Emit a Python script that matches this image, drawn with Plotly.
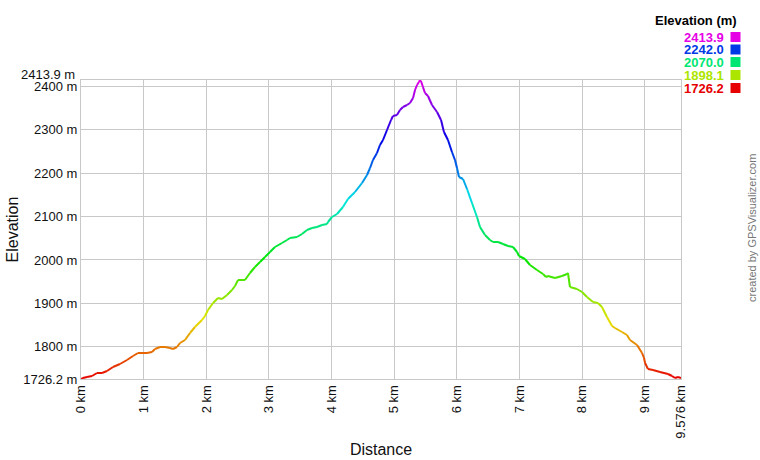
import colorsys
import plotly.graph_objects as go

# ---- data ----
distance_km = [0.000, 0.032, 0.096, 0.176, 0.255, 0.335, 0.415, 0.511, 0.622, 0.734,
               0.830, 0.910, 0.974, 1.053, 1.133, 1.181, 1.261, 1.341, 1.420, 1.468,
               1.532, 1.580, 1.660, 1.740, 1.819, 1.931, 1.979, 2.027, 2.107, 2.187,
               2.250, 2.330, 2.410, 2.458, 2.506, 2.570, 2.617, 2.697, 2.777, 2.857,
               2.937, 3.016, 3.096, 3.208, 3.288, 3.336, 3.447, 3.527, 3.607, 3.687,
               3.767, 3.846, 3.926, 3.942, 4.006, 4.086, 4.181, 4.261, 4.373, 4.485,
               4.565, 4.613, 4.660, 4.724, 4.772, 4.820, 4.884, 4.948, 4.979, 5.043,
               5.091, 5.139, 5.203, 5.251, 5.299, 5.331, 5.363, 5.394, 5.410, 5.426,
               5.458, 5.490, 5.538, 5.602, 5.682, 5.746, 5.793, 5.857, 5.921, 5.969,
               6.001, 6.033, 6.097, 6.161, 6.240, 6.320, 6.368, 6.448, 6.528, 6.576,
               6.655, 6.735, 6.815, 6.895, 6.959, 6.990, 7.086, 7.166, 7.278, 7.374,
               7.421, 7.453, 7.565, 7.677, 7.757, 7.772, 7.804, 7.916, 7.996, 8.076,
               8.171, 8.251, 8.315, 8.395, 8.475, 8.523, 8.634, 8.714, 8.762, 8.874,
               8.954, 8.986, 9.002, 9.049, 9.129, 9.241, 9.369, 9.433, 9.480, 9.528,
               9.576]
elevation_m = [1726.2, 1728.5, 1730.8, 1733.1, 1740.0, 1740.0, 1744.6, 1753.8, 1760.7, 1769.9,
               1779.1, 1786.0, 1786.0, 1786.0, 1788.3, 1795.2, 1799.8, 1799.8, 1797.5, 1795.2,
               1799.8, 1809.0, 1815.9, 1832.0, 1845.8, 1861.9, 1871.1, 1884.9, 1901.0, 1912.5,
               1910.2, 1919.4, 1930.9, 1940.1, 1953.9, 1953.9, 1953.9, 1970.0, 1983.8, 1995.3,
               2006.8, 2018.3, 2029.8, 2039.0, 2045.9, 2050.5, 2052.8, 2059.7, 2068.9, 2073.5,
               2075.8, 2080.4, 2082.7, 2087.3, 2098.8, 2105.7, 2121.8, 2140.2, 2156.3, 2177.0,
               2195.4, 2211.5, 2229.9, 2246.0, 2264.4, 2275.9, 2298.9, 2321.9, 2331.1, 2333.4,
               2344.9, 2351.8, 2356.4, 2361.0, 2372.5, 2390.9, 2402.4, 2409.3, 2413.9, 2411.6,
               2397.8, 2384.0, 2377.1, 2356.4, 2340.3, 2321.9, 2294.3, 2275.9, 2248.3, 2229.9,
               2211.5, 2190.8, 2186.2, 2163.2, 2131.0, 2098.8, 2075.8, 2057.4, 2045.9, 2041.3,
               2041.3, 2036.7, 2032.1, 2029.8, 2018.3, 2009.1, 2002.2, 1988.4, 1976.9, 1967.7,
               1960.8, 1963.1, 1958.5, 1963.1, 1967.7, 1970.0, 1937.8, 1933.2, 1926.3, 1914.8,
               1903.3, 1901.0, 1891.8, 1868.8, 1848.1, 1843.5, 1834.3, 1827.4, 1815.9, 1804.4,
               1786.0, 1774.5, 1763.0, 1749.2, 1746.9, 1742.3, 1737.7, 1733.1, 1728.5, 1730.8,
               1728.5]

elev_min = 1726.2
elev_max = 2413.9
total_km = 9.576
y_tick_vals = [1726.2, 1800, 1900, 2000, 2100, 2200, 2300, 2400, 2413.9]
y_tick_text = ["1726.2 m", "1800 m", "1900 m", "2000 m", "2100 m", "2200 m", "2300 m", "2400 m", ""]
x_tick_vals = [0, 1, 2, 3, 4, 5, 6, 7, 8, 9, 9.576]
x_tick_text = ["0 km", "1 km", "2 km", "3 km", "4 km", "5 km", "6 km", "7 km", "8 km", "9 km", "9.576 km"]
legend_values = [2413.9, 2242.0, 2070.0, 1898.1, 1726.2]

FONT = "Liberation Sans, Arial, sans-serif"


def elev_color(v):
    frac = (v - elev_min) / (elev_max - elev_min)
    frac = min(max(frac, 0.0), 1.0)
    r, g, b = colorsys.hsv_to_rgb(300.0 * frac / 360.0, 1.0, 0.9)
    return "rgb(%d,%d,%d)" % (round(r * 255), round(g * 255), round(b * 255))


fig = go.Figure()
for i in range(len(distance_km) - 1):
    mid = (elevation_m[i] + elevation_m[i + 1]) / 2.0
    fig.add_trace(go.Scatter(
        x=distance_km[i:i + 2], y=elevation_m[i:i + 2], mode="lines",
        line=dict(color=elev_color(mid), width=2),
        showlegend=False, hoverinfo="skip"))

W, H = 760, 460
L, T = 81, 80
PW, PH = 600, 299
R, B = W - L - PW, H - T - PH


def px_x(p):
    return (p - L) / PW


def px_y(p):
    return (T + PH - p) / PH


fig.update_layout(
    width=W, height=H,
    margin=dict(l=L, r=R, t=T, b=B, autoexpand=False),
    paper_bgcolor="white", plot_bgcolor="white",
    font=dict(family=FONT, size=13, color="#111"),
    hovermode=False,
    xaxis=dict(
        range=[0, total_km], tickvals=x_tick_vals, ticktext=x_tick_text,
        tickangle=-90, showgrid=True, gridcolor="#c8c8c8", gridwidth=1,
        showline=True, linecolor="#c8c8c8", mirror=True, zeroline=False,
        ticks="", tickfont=dict(size=13, family=FONT),
        title=dict(text="Distance", font=dict(size=16, family=FONT), standoff=6),
        automargin=False,
    ),
    yaxis=dict(
        range=[elev_min, elev_max], tickvals=y_tick_vals, ticktext=y_tick_text,
        showgrid=True, gridcolor="#c8c8c8", gridwidth=1,
        showline=True, linecolor="#c8c8c8", mirror=True, zeroline=False,
        ticks="", tickfont=dict(size=13, family=FONT),
        title=dict(text="Elevation", font=dict(size=16, family=FONT), standoff=0),
        automargin=False,
    ),
)

annotations = []
# top y tick label, shifted up to avoid colliding with 2400 m
annotations.append(dict(
    x=0, xref="paper", y=elev_max, yref="y", text="%.1f m" % elev_max,
    xanchor="right", yanchor="middle", xshift=-4, yshift=6,
    showarrow=False, font=dict(size=13, family=FONT, color="#111")))

# legend title
annotations.append(dict(
    x=px_x(739), y=px_y(21), xref="paper", yref="paper", text="<b>Elevation (m)</b>",
    xanchor="right", yanchor="middle", showarrow=False,
    font=dict(size=13, family=FONT, color="#000")))

shapes = []
row_y = [37, 49.5, 62, 75, 88]
for v, ry in zip(legend_values, row_y):
    c = elev_color(v)
    annotations.append(dict(
        x=px_x(726), y=px_y(ry), xref="paper", yref="paper", text="<b>%.1f</b>" % v,
        xanchor="right", yanchor="middle", showarrow=False,
        font=dict(size=13, family=FONT, color=c)))
    shapes.append(dict(
        type="rect", xref="paper", yref="paper",
        x0=px_x(730.5), x1=px_x(740.5), y0=px_y(ry + 5), y1=px_y(ry - 5),
        fillcolor=c, line=dict(width=0)))

# watermark
annotations.append(dict(
    x=px_x(752), y=px_y(228), xref="paper", yref="paper",
    text="created by GPSVisualizer.com", textangle=-90,
    xanchor="center", yanchor="middle", showarrow=False,
    font=dict(size=11, family=FONT, color="#777")))

fig.update_layout(annotations=annotations, shapes=shapes)
# remove the default page margin so the figure sits at the window's top-left corner
fig.write_html(
    "out.html",
    config={"displayModeBar": False, "staticPlot": True},
    post_script="document.body.style.margin='0';document.body.style.overflow='hidden';",
)
